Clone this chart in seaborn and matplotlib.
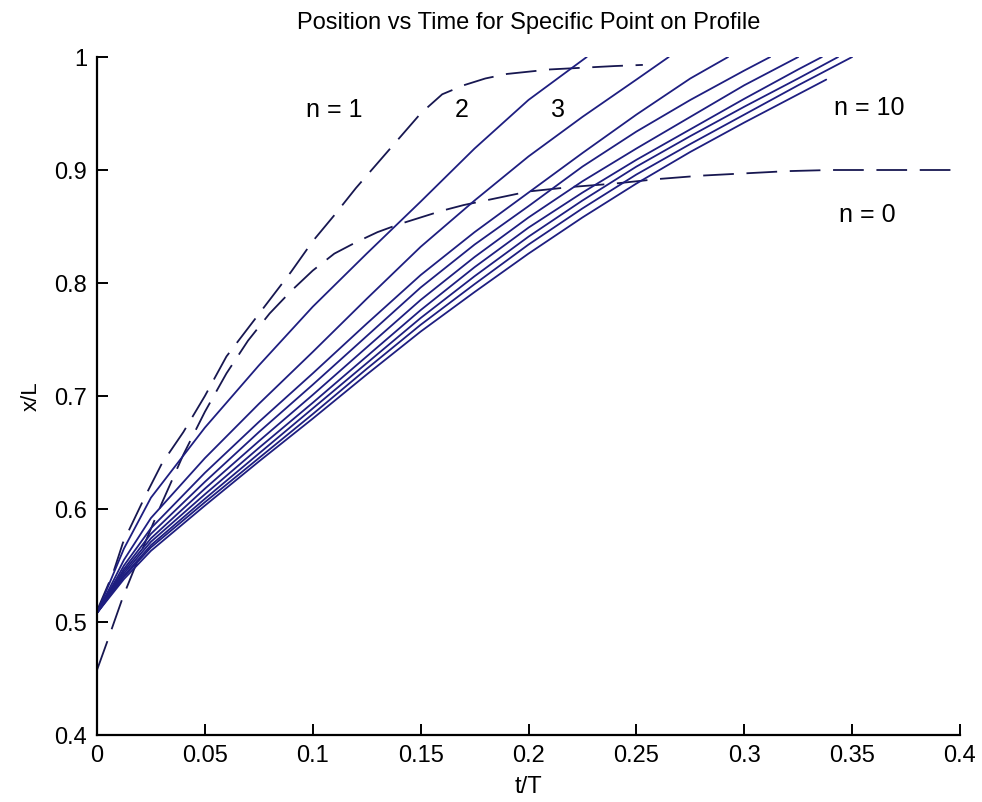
import numpy as np
import pandas as pd
import matplotlib
matplotlib.use("Agg")
import matplotlib.pyplot as plt
import seaborn as sns

# ---------------- data ----------------
t_n0 = [0, 0.005, 0.012, 0.02, 0.03, 0.04, 0.05, 0.06, 0.07, 0.08, 0.09, 0.10, 0.11,
        0.12, 0.13, 0.14, 0.15, 0.16, 0.17, 0.18, 0.20, 0.22, 0.24, 0.26, 0.28, 0.30,
        0.32, 0.34, 0.37, 0.40]
y_n0 = [0.4575, 0.484, 0.522, 0.560, 0.605, 0.648, 0.686, 0.720, 0.749, 0.773, 0.793,
        0.811, 0.826, 0.836, 0.845, 0.852, 0.858, 0.864, 0.869, 0.873, 0.881, 0.885,
        0.888, 0.892, 0.895, 0.897, 0.899, 0.900, 0.900, 0.900]

t_n1 = [0, 0.0074, 0.012, 0.022, 0.03, 0.04, 0.05, 0.06, 0.07, 0.08, 0.09, 0.10, 0.11,
        0.12, 0.13, 0.14, 0.15, 0.16, 0.17, 0.18, 0.19, 0.20, 0.21, 0.22, 0.23, 0.24, 0.253]
y_n1 = [0.510, 0.543, 0.570, 0.610, 0.640, 0.668, 0.700, 0.735, 0.760, 0.785, 0.810,
        0.837, 0.860, 0.884, 0.906, 0.928, 0.950, 0.967, 0.975, 0.981, 0.985, 0.987,
        0.989, 0.990, 0.991, 0.992, 0.993]

t_grid = [0, 0.0125, 0.025, 0.05, 0.075, 0.10, 0.125, 0.15, 0.175, 0.20, 0.225, 0.25,
          0.275, 0.30, 0.325]

y_n2 = [0.508, 0.565, 0.610, 0.672, 0.727, 0.779, 0.826, 0.872, 0.919, 0.962]
end_n2 = (0.227, 1.0)
y_n3 = [0.508, 0.555, 0.592, 0.645, 0.693, 0.739, 0.786, 0.832, 0.873, 0.912, 0.947, 0.980]
end_n3 = (0.265, 1.0)
y_n4 = [0.508, 0.550, 0.583, 0.632, 0.677, 0.720, 0.764, 0.807, 0.845, 0.880, 0.915,
        0.949, 0.981]
end_n4 = (0.2925, 1.0)
y_n5 = [0.508, 0.547, 0.578, 0.624, 0.668, 0.710, 0.753, 0.796, 0.834, 0.868, 0.903,
        0.934, 0.962, 0.988]
end_n5 = (0.312, 1.0)
y_n6 = [0.508, 0.545, 0.574, 0.618, 0.660, 0.701, 0.743, 0.785, 0.823, 0.858, 0.890,
        0.919, 0.947, 0.975]
end_n6 = (0.325, 1.0)
y_n7 = [0.508, 0.543, 0.571, 0.613, 0.654, 0.694, 0.735, 0.776, 0.814, 0.849, 0.880,
        0.909, 0.936, 0.963, 0.989]
end_n7 = (0.336, 1.0)
y_n8 = [0.508, 0.541, 0.568, 0.609, 0.649, 0.689, 0.729, 0.769, 0.806, 0.841, 0.873,
        0.903, 0.930, 0.956, 0.981]
end_n8 = (0.3435, 1.0)
y_n9 = [0.508, 0.540, 0.566, 0.606, 0.645, 0.684, 0.724, 0.763, 0.799, 0.834, 0.866,
        0.896, 0.923, 0.949, 0.975]
end_n9 = (0.350, 1.0)
y_n10 = [0.508, 0.538, 0.563, 0.603, 0.642, 0.680, 0.719, 0.757, 0.792, 0.826, 0.858,
         0.888, 0.916, 0.942, 0.967]
end_n10 = (0.338, 0.980)

solid_series = [(2, y_n2, end_n2), (3, y_n3, end_n3), (4, y_n4, end_n4),
                (5, y_n5, end_n5), (6, y_n6, end_n6), (7, y_n7, end_n7),
                (8, y_n8, end_n8), (9, y_n9, end_n9), (10, y_n10, end_n10)]

x_ticks = [0, 0.05, 0.1, 0.15, 0.2, 0.25, 0.3, 0.35, 0.4]
x_ticklabels = ["0", "0.05", "0.1", "0.15", "0.2", "0.25", "0.3", "0.35", "0.4"]
y_ticks = [0.4, 0.5, 0.6, 0.7, 0.8, 0.9, 1.0]
y_ticklabels = ["0.4", "0.5", "0.6", "0.7", "0.8", "0.9", "1"]

labels = [("n = 1", 0.110, 0.953), ("2", 0.169, 0.953), ("3", 0.2137, 0.953),
          ("n = 10", 0.358, 0.955), ("n = 0", 0.357, 0.860)]

# ---------------- build table ----------------
rows = []
for t, y in zip(t_n0, y_n0):
    rows.append(("n0", t, y))
for t, y in zip(t_n1, y_n1):
    rows.append(("n1", t, y))
for n, ys, end in solid_series:
    for t, y in zip(t_grid[:len(ys)], ys):
        rows.append((f"n{n}", t, y))
    rows.append((f"n{n}", end[0], end[1]))
df = pd.DataFrame(rows, columns=["curve", "t", "x"])

# ---------------- plot ----------------
sns.set_theme(style="white")
plt.rcParams["font.family"] = ["Liberation Sans", "DejaVu Sans"]
plt.rcParams["text.color"] = "black"
plt.rcParams["axes.labelcolor"] = "black"

fig = plt.figure(figsize=(9.82, 8.02), dpi=100)
ax = fig.add_axes([97 / 982, 1 - 735 / 802, (960 - 97) / 982, (735 - 57) / 802])

line_color = "#1e1e80"
for name, sub in df.groupby("curve", sort=False):
    dashed = name in ("n0", "n1")
    sns.lineplot(data=sub, x="t", y="x", ax=ax, sort=False, estimator=None,
                 color="#171750" if dashed else line_color, linewidth=1.3,
                 legend=False)
    if dashed:
        ax.lines[-1].set_dashes((17, 7))

ax.set_xlim(0, 0.4)
ax.set_ylim(0.4, 1.0)
ax.set_xticks(x_ticks)
ax.set_xticklabels(x_ticklabels)
ax.set_yticks(y_ticks)
ax.set_yticklabels(y_ticklabels)
ax.tick_params(axis="both", direction="in", length=8, width=1.4, labelsize=17,
               colors="black", pad=7, bottom=True, left=True)
for side in ("top", "right"):
    ax.spines[side].set_visible(False)
for side in ("left", "bottom"):
    ax.spines[side].set_color("black")
    ax.spines[side].set_linewidth(1.6)

ax.set_xlabel("t/T", fontsize=17, labelpad=7)
ax.set_ylabel("x/L", fontsize=16, labelpad=9)
ax.set_title("Position vs Time for Specific Point on Profile", fontsize=17,
             pad=20, color="black")

for txt, tx, ty in labels:
    ax.text(tx, ty, txt, fontsize=18, ha="center", va="center", color="black")

fig.savefig("out.png", dpi=100, facecolor="white")
